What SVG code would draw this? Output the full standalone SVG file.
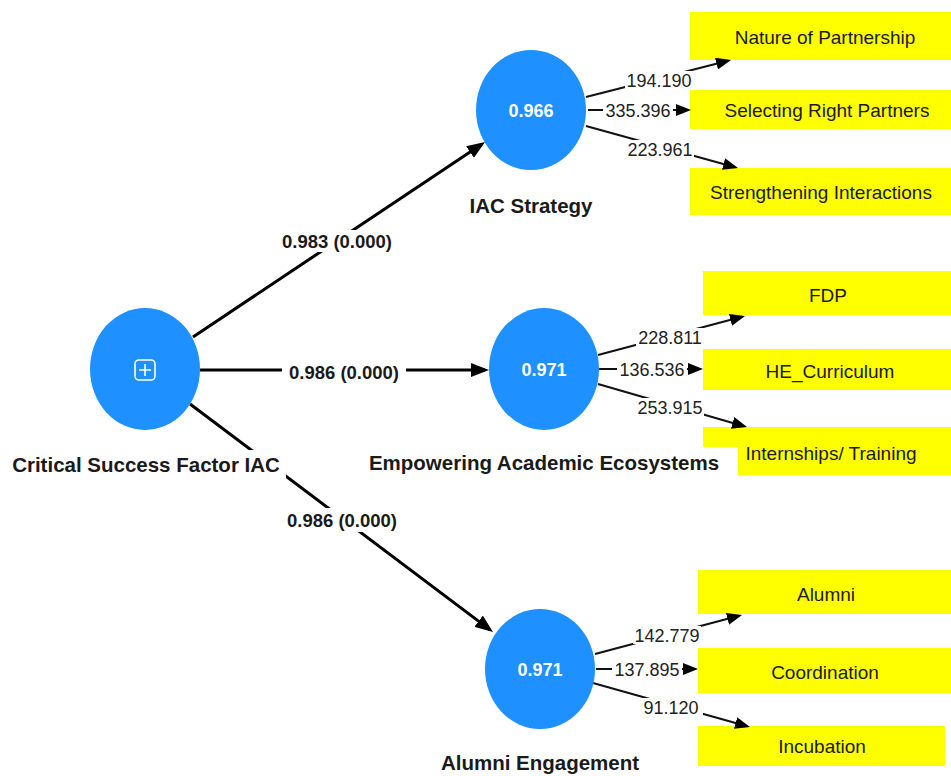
<svg xmlns="http://www.w3.org/2000/svg" width="951" height="776" viewBox="0 0 951 776">
<style>
.ind{fill:#ffff00}
.lv{fill:#1e90ff}
.it{font-family:"Liberation Sans",Arial,sans-serif;font-size:19px;fill:#1a1a1a;text-anchor:middle}
.lt{font-family:"Liberation Sans",Arial,sans-serif;font-size:20.5px;font-weight:bold;fill:#1a1a1a;text-anchor:middle}
.vt{font-family:"Liberation Sans",Arial,sans-serif;font-size:18px;font-weight:bold;fill:#ffffff;text-anchor:middle}
.pt{font-family:"Liberation Sans",Arial,sans-serif;font-size:18.5px;font-weight:bold;fill:#1a1a1a;text-anchor:middle}
.ld{font-family:"Liberation Sans",Arial,sans-serif;font-size:18px;fill:#222;text-anchor:middle}
.pl{stroke:#000;stroke-width:3;fill:none;marker-end:url(#ah)}
.ll{stroke:#111;stroke-width:2;fill:none;marker-end:url(#as)}
.bg{fill:#ffffff}
</style>
<defs>
<marker id="ah" markerUnits="userSpaceOnUse" markerWidth="18" markerHeight="14" refX="14" refY="7" orient="auto"><path d="M0,0 L18,7 L0,14 z" fill="#000"/></marker>
<marker id="as" markerUnits="userSpaceOnUse" markerWidth="15" markerHeight="12" refX="12" refY="6" orient="auto"><path d="M0,0 L15,6 L0,12 z" fill="#000"/></marker>
</defs>
<rect width="951" height="776" fill="#ffffff"/>

<g id="ind-nature"><rect class="ind" x="690" y="12" width="270" height="48"/><text class="it" x="825" y="44">Nature of Partnership</text></g>
<g id="ind-selecting"><rect class="ind" x="690" y="90" width="270" height="39"/><text class="it" x="827" y="117">Selecting Right Partners</text></g>
<g id="ind-strengthening"><rect class="ind" x="690" y="168" width="261" height="47"/><text class="it" x="821" y="199">Strengthening Interactions</text></g>
<g id="ind-fdp"><rect class="ind" x="703" y="271" width="260" height="44"/><text class="it" x="828" y="302">FDP</text></g>
<g id="ind-he"><rect class="ind" x="703" y="349" width="260" height="41"/><text class="it" x="830" y="378">HE_Curriculum</text></g>
<g id="ind-intern"><rect class="ind" x="703" y="427" width="260" height="48"/><text class="it" x="831" y="460">Internships/ Training</text></g>
<g id="ind-alumni"><rect class="ind" x="698" y="570" width="260" height="44"/><text class="it" x="826" y="601">Alumni</text></g>
<g id="ind-coord"><rect class="ind" x="698" y="648" width="260" height="45"/><text class="it" x="825" y="679">Coordination</text></g>
<g id="ind-incub"><rect class="ind" x="698" y="726" width="247" height="40"/><text class="it" x="822" y="753">Incubation</text></g>

<g id="connectors">
<line class="pl" x1="193" y1="337" x2="481.7" y2="144.2"/>
<rect class="bg" x="278" y="230" width="118" height="22"/><text class="pt" x="337" y="248">0.983 (0.000)</text>
<line class="pl" x1="200" y1="370" x2="485" y2="370"/>
<rect class="bg" x="282" y="360" width="124" height="24"/><text class="pt" x="344" y="379">0.986 (0.000)</text>
<line class="pl" x1="190" y1="404" x2="489.8" y2="629.6"/>
<rect class="bg" x="284" y="508" width="118" height="24"/><text class="pt" x="342" y="527">0.986 (0.000)</text>

<line class="ll" x1="586" y1="97" x2="728.1" y2="60.7"/>
<rect class="bg" x="625" y="71" width="68" height="18"/><text class="ld" x="659" y="86.5">194.190</text>
<line class="ll" x1="588" y1="110" x2="688" y2="110"/>
<rect class="bg" x="603" y="101" width="70" height="18"/><text class="ld" x="638" y="117">335.396</text>
<line class="ll" x1="586" y1="126" x2="735.1" y2="167.2"/>
<rect class="bg" x="626" y="140" width="68" height="18"/><text class="ld" x="660" y="155.5">223.961</text>

<line class="ll" x1="598" y1="355" x2="742.1" y2="316.8"/>
<rect class="bg" x="636" y="328" width="68" height="18"/><text class="ld" x="670" y="343.5">228.811</text>
<line class="ll" x1="599" y1="369" x2="700" y2="369"/>
<rect class="bg" x="617" y="360" width="70" height="18"/><text class="ld" x="652" y="375.5">136.536</text>
<line class="ll" x1="598" y1="384" x2="744.1" y2="426.2"/>
<rect class="bg" x="636" y="398" width="68" height="18"/><text class="ld" x="670" y="414">253.915</text>

<line class="ll" x1="595" y1="654" x2="739.1" y2="615.8"/>
<rect class="bg" x="633" y="626" width="68" height="18"/><text class="ld" x="667" y="641.5">142.779</text>
<line class="ll" x1="596" y1="669" x2="695" y2="669"/>
<rect class="bg" x="612" y="660" width="70" height="18"/><text class="ld" x="647" y="675.5">137.895</text>
<line class="ll" x1="593" y1="683" x2="747.1" y2="726.2"/>
<rect class="bg" x="641" y="698" width="62" height="18"/><text class="ld" x="671" y="714">91.120</text>
</g>

<g id="csf">
<ellipse class="lv" cx="145" cy="369" rx="55" ry="61"/>
<rect x="135" y="360" width="20" height="20" rx="4" fill="none" stroke="#fff" stroke-width="1.6"/>
<path d="M145,364 V376 M139,370 H151" stroke="#fff" stroke-width="1.6"/>
<rect class="bg" x="8" y="450" width="278" height="28"/>
<text class="lt" x="146" y="472">Critical Success Factor IAC</text>
</g>
<g id="iac-strategy">
<ellipse class="lv" cx="531" cy="110" rx="55" ry="60"/>
<text class="vt" x="531" y="117">0.966</text>
<text class="lt" x="531" y="213">IAC Strategy</text>
</g>
<g id="empowering">
<ellipse class="lv" cx="544" cy="369" rx="55" ry="61"/>
<text class="vt" x="544" y="376">0.971</text>
<rect class="bg" x="362" y="447" width="376" height="31"/>
<text class="lt" x="544" y="470">Empowering Academic Ecosystems</text>
</g>
<g id="alumni-engagement">
<ellipse class="lv" cx="540" cy="669" rx="55" ry="60"/>
<text class="vt" x="540" y="676">0.971</text>
<text class="lt" x="540" y="770">Alumni Engagement</text>
</g>
</svg>
